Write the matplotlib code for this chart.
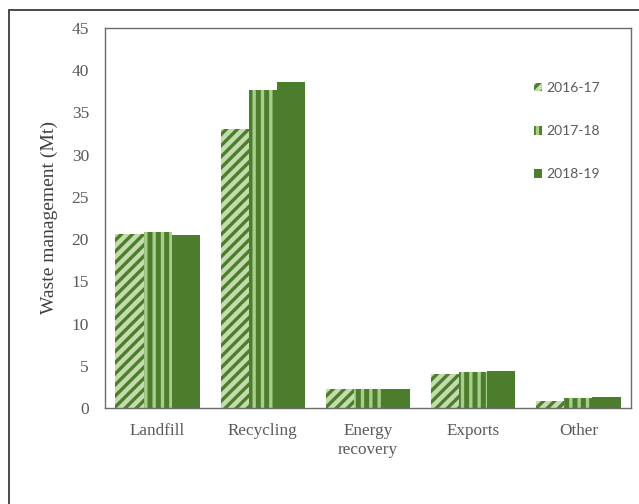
import numpy as np
import matplotlib
matplotlib.use('Agg')
import matplotlib.pyplot as plt
from matplotlib.patches import Rectangle

# waste management by fate (Mt)
categories = ["Landfill", "Recycling", "Energy\nrecovery", "Exports", "Other"]
years = ["2016-17", "2017-18", "2018-19"]
v_2016 = [20.6, 33.0, 2.2, 4.0, 0.8]
v_2017 = [20.9, 37.7, 2.2, 4.3, 1.2]
v_2018 = [20.5, 38.6, 2.2, 4.4, 1.3]

dark = '#4c7d2d'
light_a = '#c3dbad'
light_b = '#a8cd8c'
frame = '#6b6b6b'
text_col = '#595959'

plt.rcParams['hatch.linewidth'] = 2.4

fig = plt.figure(figsize=(6.39, 5.04), dpi=100)
ax = fig.add_axes([105 / 639, 1 - 408 / 504, 526 / 639, 380 / 504])

x = np.arange(len(categories))
w = 0.268
# hatch colour follows edgecolor; linewidth=0 keeps the outline off
ax.bar(x - w, v_2016, w, color=light_a, hatch='///', edgecolor=dark, linewidth=0, label=years[0])
ax.bar(x, v_2017, w, color=dark, hatch='||', edgecolor=light_b, linewidth=0, label=years[1])
ax.bar(x + w, v_2018, w, color=dark, linewidth=0, label=years[2])

ax.set_xlim(-0.5, 4.5)
ax.set_ylim(0, 45)
ax.set_yticks(range(0, 46, 5))
ax.set_xticks(x)
ax.set_xticklabels(categories, family='Liberation Serif', fontsize=12.3,
                   color=text_col, linespacing=1.2)
for t in ax.get_yticklabels():
    t.set_family('Liberation Serif')
    t.set_fontsize(12.5)
    t.set_color(text_col)
ax.tick_params(length=0)
ax.tick_params(axis='y', pad=11.5)
ax.tick_params(axis='x', pad=11)
for s in ax.spines.values():
    s.set_color(frame)
    s.set_linewidth(1.0)

ax.set_ylabel("Waste management (Mt)", family='Liberation Serif', fontsize=14,
              color='#404040', labelpad=10)

leg = ax.legend(loc='upper left', bbox_to_anchor=(0.792, 0.891), frameon=False,
                prop={'family': 'Lato', 'size': 10}, handlelength=0.6,
                handleheight=0.6, handletextpad=0.3, labelspacing=2.25)
for t in leg.get_texts():
    t.set_color(text_col)

# outer chart border
fig.patches.append(Rectangle((8.5 / 639, -0.1), 1.2, 1 - 9.5 / 504 + 0.1,
                             transform=fig.transFigure, fill=False,
                             edgecolor='#3c3c3c', linewidth=1.3))

fig.savefig('out.png', dpi=100)
